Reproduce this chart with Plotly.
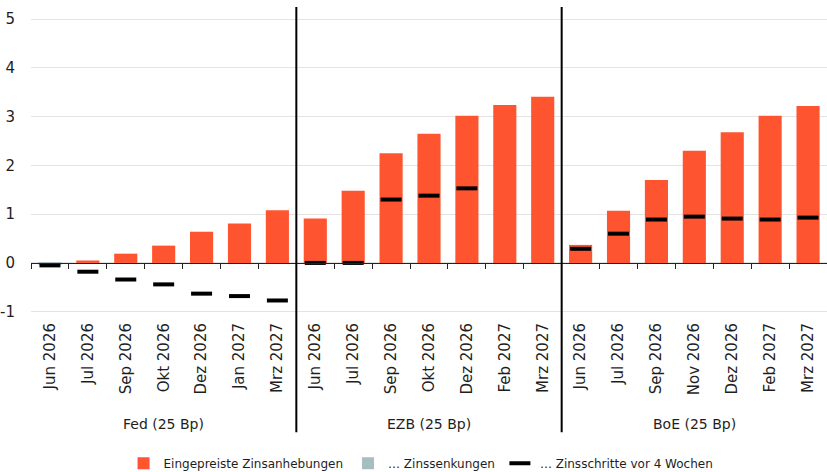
import plotly.graph_objects as go

groups = ["Fed (25 Bp)", "EZB (25 Bp)", "BoE (25 Bp)"]
months_fed = ["Jun 2026", "Jul 2026", "Sep 2026", "Okt 2026", "Dez 2026", "Jan 2027", "Mrz 2027"]
months_ezb = ["Jun 2026", "Jul 2026", "Sep 2026", "Okt 2026", "Dez 2026", "Feb 2027", "Mrz 2027"]
months_boe = ["Jun 2026", "Jul 2026", "Sep 2026", "Nov 2026", "Dez 2026", "Feb 2027", "Mrz 2027"]

hikes_fed = [0.0, 0.05, 0.19, 0.355, 0.64, 0.81, 1.08]
hikes_ezb = [0.91, 1.48, 2.25, 2.65, 3.02, 3.24, 3.41]
hikes_boe = [0.37, 1.07, 1.70, 2.30, 2.68, 3.02, 3.22]

cuts_fed = [-0.04, 0, 0, 0, 0, 0, 0]
cuts_ezb = [0, 0, 0, 0, 0, 0, 0]
cuts_boe = [0, 0, 0, 0, 0, 0, 0]

prev_fed = [-0.05, -0.18, -0.34, -0.44, -0.63, -0.68, -0.77]
prev_ezb = [0.0, 0.0, 1.30, 1.38, 1.53, None, None]
prev_boe = [0.29, 0.60, 0.89, 0.95, 0.91, 0.89, 0.93]

y_tickvals = [-1, 0, 1, 2, 3, 4, 5]
y_ticktext = ["-1", "0", "1", "2", "3", "4", "5"]

labels = months_fed + months_ezb + months_boe
hikes = hikes_fed + hikes_ezb + hikes_boe
cuts = cuts_fed + cuts_ezb + cuts_boe
prev = prev_fed + prev_ezb + prev_boe
group_sizes = [len(months_fed), len(months_ezb), len(months_boe)]
xs = list(range(len(labels)))

YMIN, YMAX = -1.15, 5.25
RED = "#FF5430"
GREY = "#A8BDC2"
FONT = "DejaVu Sans"

fig = go.Figure()
fig.add_trace(go.Bar(x=xs, y=hikes, name="Eingepreiste Zinsanhebungen",
                     marker=dict(color=RED, line=dict(width=0)), width=0.61))
fig.add_trace(go.Bar(x=xs, y=cuts, name="… Zinssenkungen",
                     marker=dict(color=GREY, line=dict(width=0)), width=0.61))
fig.add_trace(go.Scatter(x=xs, y=prev, mode="markers", name="… Zinsschritte vor 4 Wochen",
                         xaxis="x2",
                         marker=dict(symbol="line-ew", size=15, color="black",
                                     line=dict(width=4, color="black"))))

zero_pos = (0 - YMIN) / (YMAX - YMIN)

fig.update_layout(
    width=827, height=472,
    margin=dict(l=31, r=0, t=7, b=153, autoexpand=False),
    paper_bgcolor="white", plot_bgcolor="white",
    barmode="relative", bargap=0.39,
    font=dict(family=FONT, size=14, color="#1e1e1e"),
    showlegend=True,
    legend=dict(orientation="h", x=0.49, xanchor="center", y=-0.462, yanchor="middle",
                font=dict(family=FONT, size=12, color="#1e1e1e"),
                itemwidth=30, traceorder="normal"),
    xaxis=dict(range=[-0.5, len(labels) - 0.5], tickmode="array", tickvals=xs, ticktext=labels,
               tickangle=-90, tickfont=dict(family=FONT, size=15, color="#1e1e1e"),
               showgrid=False, showline=False, ticks="", zeroline=False),
    xaxis2=dict(matches="x", overlaying="x", anchor="free", position=zero_pos,
                tickmode="array", tickvals=[i - 0.5 for i in range(len(labels) + 1)],
                showticklabels=False, ticks="outside", ticklen=5, tickcolor="#222",
                tickwidth=1, showline=True, linecolor="#222", linewidth=1,
                showgrid=False, zeroline=False),
    yaxis=dict(range=[YMIN, YMAX], tickmode="array", tickvals=y_tickvals, ticktext=y_ticktext,
               showgrid=True, gridcolor="#e3e3e3", gridwidth=1, zeroline=False,
               ticks="outside", ticklen=12, tickcolor="rgba(0,0,0,0)",
               tickfont=dict(family=FONT, size=15, color="#1e1e1e")),
)

# group separators and labels
start = 0
for i, (g, n) in enumerate(zip(groups, group_sizes)):
    if i > 0:
        fig.add_shape(type="line", xref="x", yref="paper", x0=start - 0.5, x1=start - 0.5,
                      y0=-0.363, y1=1, line=dict(color="black", width=2))
    fig.add_annotation(x=start + (n - 1) / 2, xref="x", y=-0.337, yref="paper",
                       text=g, showarrow=False, yanchor="middle",
                       font=dict(family=FONT, size=14, color="#1e1e1e"))
    start += n

fig.write_html("out.html")
